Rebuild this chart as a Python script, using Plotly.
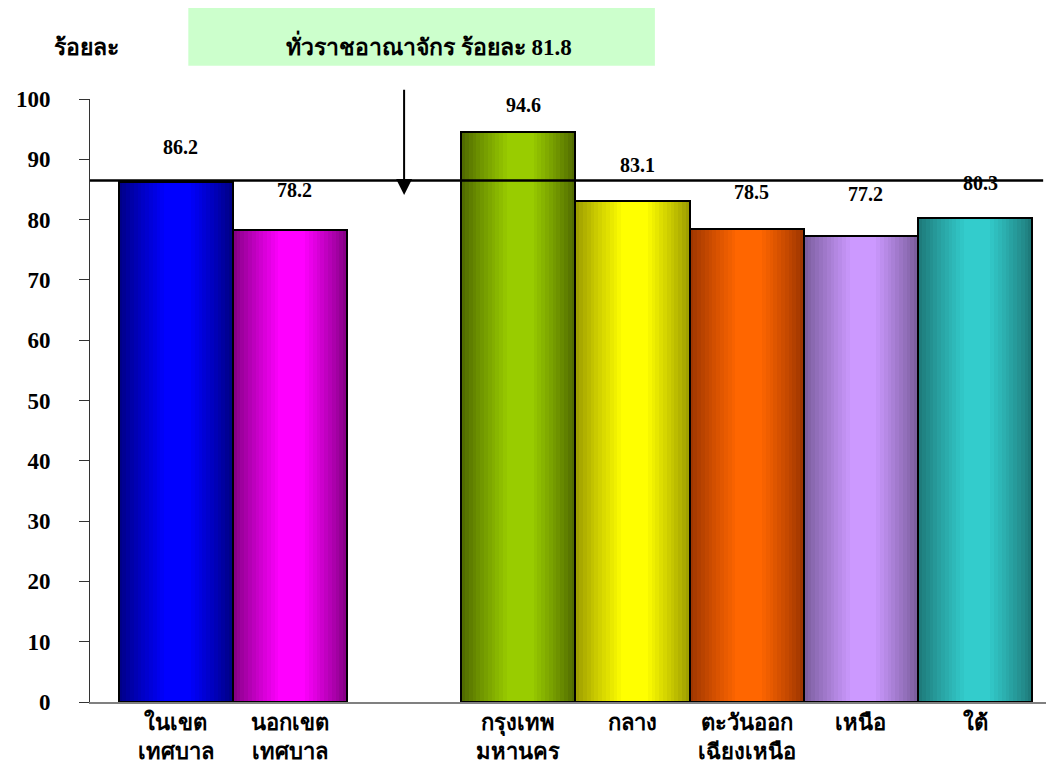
import plotly.graph_objects as go

# ---------------- data ----------------
categories = ["ในเขต<br>เทศบาล", "นอกเขต<br>เทศบาล", "", "กรุงเทพ<br>มหานคร",
              "กลาง", "ตะวันออก<br>เฉียงเหนือ", "เหนือ", "ใต้"]
values = [86.2, 78.2, None, 94.6, 83.1, 78.5, 77.2, 80.3]
value_labels = ["86.2", "78.2", "", "94.6", "83.1", "78.5", "77.2", "80.3"]
bright_colors = ["#0000FF", "#FF00FF", None, "#99CC00", "#FFFF00", "#FF6600", "#CC99FF", "#33CCCC"]
dark_colors = ["#000080", "#800080", None, "#4D6600", "#999900", "#993300", "#765A98", "#1D7676"]
title_text = "ทั่วราชอาณาจักร ร้อยละ 81.8"
y_title = "ร้อยละ"
national_line = 86.5
y_ticks = [0, 10, 20, 30, 40, 50, 60, 70, 80, 90, 100]

# label vertical offsets (px) - style only
label_dy = [35, 40, 0, 27, 36, 37, 42, 35]

xs = list(range(len(categories)))
bar_x = [x for x, v in zip(xs, values) if v is not None]
bar_y = [v for v in values if v is not None]
bar_b = [c for c, v in zip(bright_colors, values) if v is not None]
bar_d = [c for c, v in zip(dark_colors, values) if v is not None]


def hex2rgb(h):
    h = h.lstrip("#")
    return tuple(int(h[i:i + 2], 16) for i in (0, 2, 4))


def mix(c1, c2, f):
    a, b = hex2rgb(c1), hex2rgb(c2)
    return "rgb(%d,%d,%d)" % tuple(round(a[i] + (b[i] - a[i]) * f) for i in range(3))


NUM = 30
PEAK = 0.52
fig = go.Figure()
for j in range(NUM):
    t = (j + 0.5) / NUM
    if t < PEAK:
        f = t / PEAK
    else:
        f = (1 - t) / (1 - PEAK)
    f = min(1.0, f * 1.25) ** 0.9
    fig.add_trace(go.Bar(
        x=bar_x, y=bar_y, width=1.0 / NUM + 0.004, offset=-0.5 + j / NUM,
        marker=dict(color=[mix(d, b, f) for d, b in zip(bar_d, bar_b)], line=dict(width=0)),
        hoverinfo="skip", showlegend=False))

# outline
fig.add_trace(go.Bar(x=bar_x, y=bar_y, width=1.0, offset=-0.5,
                     marker=dict(color="rgba(0,0,0,0)", line=dict(color="black", width=2)),
                     showlegend=False, hoverinfo="skip"))

num_font = dict(family="Liberation Serif", size=20, color="black", weight="bold")
title_font = dict(family="Liberation Serif", size=23, color="black", weight="bold")
tick_font = dict(family="Liberation Serif", size=22, color="black", weight="bold")

annotations = []
for x, v, lab, dy in zip(xs, values, value_labels, label_dy):
    if v is None:
        continue
    annotations.append(dict(x=x, y=v, xref="x", yref="y", text=lab, showarrow=False,
                            yshift=dy, xshift=5, font=num_font, yanchor="middle"))

# arrow pointing to national line
gap_x = categories.index("")
annotations.append(dict(x=gap_x, y=national_line - 2.4, ax=gap_x, ay=101.8, xref="x", yref="y",
                        axref="x", ayref="y", showarrow=True, arrowhead=2, arrowsize=1.6,
                        arrowwidth=2, arrowcolor="black", text=""))

annotations.append(dict(x=0.352, y=1.09, xref="paper", yref="paper", text=title_text,
                        showarrow=False, font=title_font, xanchor="center", yanchor="middle"))
annotations.append(dict(x=-0.004, y=1.085, xref="paper", yref="paper", text=y_title,
                        showarrow=False, font=title_font, xanchor="center", yanchor="middle"))

shapes = [
    dict(type="rect", xref="paper", yref="paper", x0=0.102, x1=0.586, y0=1.055, y1=1.153,
         fillcolor="#CCFFCC", line=dict(width=0), layer="below"),
    dict(type="line", xref="x", yref="y", x0=-0.75, x1=7.595, y0=national_line, y1=national_line,
         line=dict(color="black", width=2.5)),
    dict(type="line", xref="paper", yref="y", x0=0, x1=0, y0=0, y1=-1.3,
         line=dict(color="#333333", width=1)),
]

fig.update_layout(
    width=1054, height=774,
    margin=dict(l=75, r=8, t=91, b=80),
    plot_bgcolor="white", paper_bgcolor="white",
    barmode="overlay", bargap=0,
    annotations=annotations, shapes=shapes,
    xaxis=dict(range=[-0.75, 7.69], tickvals=xs, ticktext=categories, showgrid=False,
               zeroline=False, showline=True, linecolor="#808080", linewidth=2,
               ticks="", tickfont=tick_font, fixedrange=True),
    yaxis=dict(range=[0, 100], tickvals=y_ticks, showgrid=False, zeroline=False,
               showline=True, linecolor="#333333", linewidth=1, ticks="outside",
               ticklen=10, tickcolor="#333333", tickfont=dict(family="Liberation Serif", size=23,
                                                             color="black", weight="bold"),
               ticklabelstandoff=24),
)

fig.write_html("out.html")
